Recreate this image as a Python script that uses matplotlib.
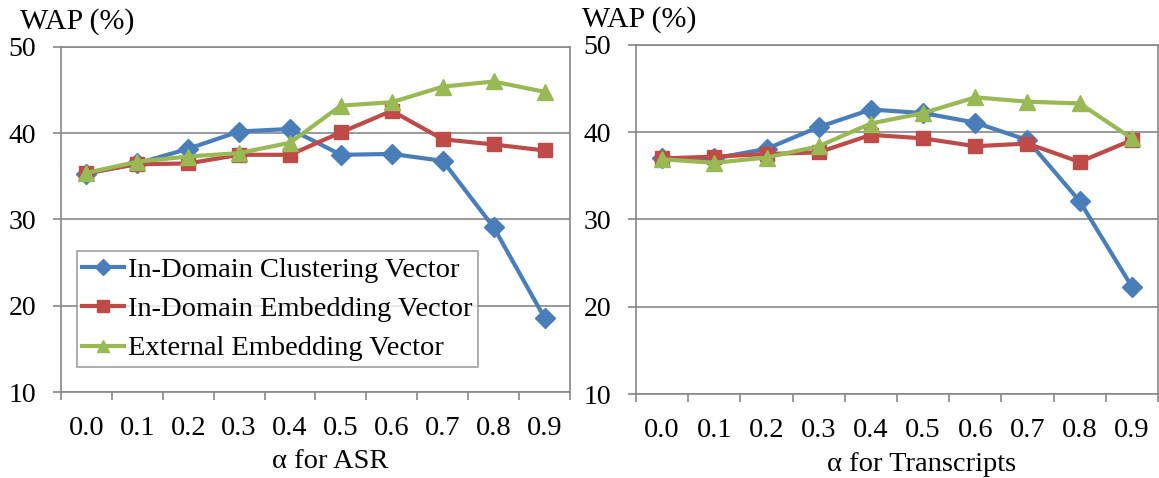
import numpy as np
import matplotlib.pyplot as plt

plt.rcParams['font.family'] = ['Liberation Serif', 'DejaVu Serif']

alphas = ['0.0', '0.1', '0.2', '0.3', '0.4', '0.5', '0.6', '0.7', '0.8', '0.9']
series_names = ['In-Domain Clustering Vector', 'In-Domain Embedding Vector', 'External Embedding Vector']

# WAP (%) with ASR
asr_cluster = [35.3, 36.5, 38.2, 40.2, 40.5, 37.5, 37.6, 36.8, 29.1, 18.6]
asr_indomain = [35.4, 36.4, 36.5, 37.5, 37.5, 40.1, 42.6, 39.3, 38.7, 38.0]
asr_external = [35.4, 36.7, 37.3, 37.7, 38.9, 43.2, 43.6, 45.4, 46.0, 44.8]

# WAP (%) with transcripts
tr_cluster = [37.0, 37.0, 38.1, 40.6, 42.6, 42.2, 41.1, 39.1, 32.1, 22.3]
tr_indomain = [37.0, 37.2, 37.5, 37.7, 39.7, 39.3, 38.4, 38.7, 36.6, 39.1]
tr_external = [36.9, 36.5, 37.1, 38.4, 41.0, 42.2, 44.0, 43.5, 43.3, 39.3]

colors = ['#4A7EBB', '#BE4B48', '#98B954']
markers = ['D', 's', '^']
msizes = [10, 10, 11]
grey = '#878787'

fig = plt.figure(figsize=(11.59, 4.78), dpi=100)
ax1 = fig.add_axes([0.0526, 0.1799, 0.4392, 0.7218])
ax2 = fig.add_axes([0.5488, 0.1757, 0.4503, 0.7302])


def draw_panel(ax, values, xlabel, label_x):
    x = np.arange(len(alphas))
    for vals, c, m, ms, name in zip(values, colors, markers, msizes, series_names):
        ax.plot(x, vals, color=c, lw=3, marker=m, ms=ms, mec=c, mfc=c, label=name)
    ax.set_xlim(-0.5, len(alphas) - 0.5)
    ax.set_ylim(10, 50)
    ax.set_yticks([10, 20, 30, 40, 50])
    ax.yaxis.grid(True, color=grey, lw=1.2)
    ax.set_axisbelow(True)
    ax.set_xticks(x)
    ax.set_xticklabels(alphas)
    ax.set_xticks(np.arange(-0.5, len(alphas)), minor=True)
    ax.tick_params(axis='x', which='major', length=0, pad=17, labelsize=20.5)
    ax.tick_params(axis='x', which='minor', length=6, color=grey, width=1.2)
    ax.tick_params(axis='y', length=6, color=grey, width=1.2, labelsize=20, pad=12)
    for s in ax.spines.values():
        s.set_color(grey)
        s.set_linewidth(1.2)
    ax.set_xlabel(xlabel, fontsize=20.5, labelpad=0)
    ax.xaxis.set_label_coords(label_x, -0.165)


draw_panel(ax1, [asr_cluster, asr_indomain, asr_external], 'α for ASR', 0.528)
draw_panel(ax2, [tr_cluster, tr_indomain, tr_external], 'α for Transcripts', 0.548)

fig.text(0.017, 0.955, 'WAP (%)', fontsize=21.5, va='center', ha='left')
fig.text(0.502, 0.960, 'WAP (%)', fontsize=21.5, va='center', ha='left')

leg = ax1.legend(loc='lower left', bbox_to_anchor=(0.031, 0.072), fontsize=20.5,
                 frameon=True, fancybox=False, handlelength=1.45, handletextpad=0.15,
                 borderpad=0.2, labelspacing=0.47, borderaxespad=0, markerscale=0.8)
leg.get_frame().set_edgecolor(grey)
leg.get_frame().set_linewidth(1.2)

fig.savefig('out.png', dpi=100)
